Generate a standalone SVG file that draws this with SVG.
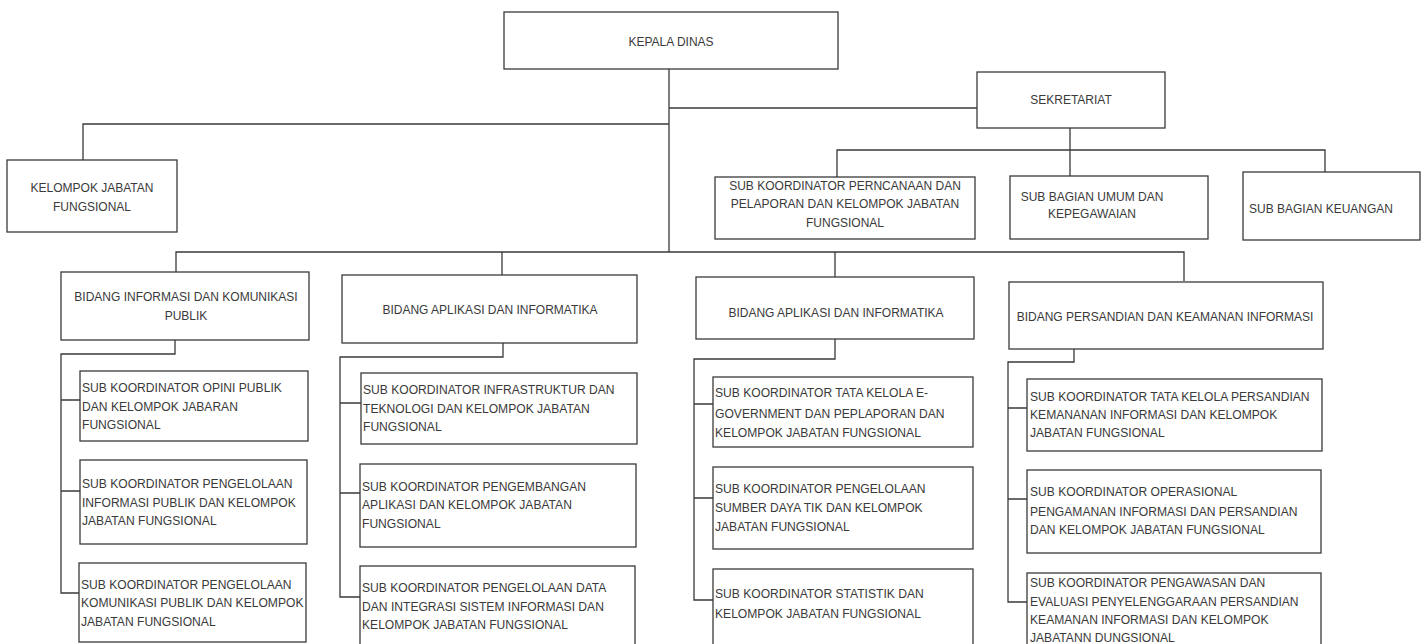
<svg xmlns="http://www.w3.org/2000/svg" width="1428" height="644" viewBox="0 0 1428 644">
<style>
.b{fill:#fff;stroke:#3a3a3a;stroke-width:1.3}
.c{fill:none;stroke:#3a3a3a;stroke-width:1.3}
text{font-family:"Liberation Sans",Arial,sans-serif;fill:#3a3a3a}
.t{font-size:12px;text-anchor:middle}
.s{font-size:12.1px}
</style>
<rect width="1428" height="644" fill="#fff"/>
<g id="connectors">
<path class="c" d="M669 69V252"/>
<path class="c" d="M669 108H977"/>
<path class="c" d="M669 124H83V160"/>
<path class="c" d="M1070 128V176"/>
<path class="c" d="M837 177V150H1325V172"/>
<path class="c" d="M176 272V252H1184V281"/>
<path class="c" d="M502 252V275"/>
<path class="c" d="M835 252V277"/>
<path class="c" d="M175 340V354H61V593H80M61 400H80M61 491H80"/>
<path class="c" d="M503 343V357H340V597H361M340 403H361M340 493H361"/>
<path class="c" d="M835 339V359H694V600H713M694 404H713M694 498H713"/>
<path class="c" d="M1074 349V362H1008V602H1027M1008 408H1027M1008 499H1027"/>
</g>
<g id="kepala"><rect class="b" x="504" y="12" width="334" height="57"/><text class="t" x="671" y="46">KEPALA DINAS</text></g>
<g id="sekretariat"><rect class="b" x="977" y="72" width="188" height="56"/><text class="t" x="1071" y="104">SEKRETARIAT</text></g>
<g id="kjf"><rect class="b" x="7" y="160" width="170" height="72"/><text class="t" x="92" y="192">KELOMPOK JABATAN</text><text class="t" x="92" y="211">FUNGSIONAL</text></g>
<g id="perencanaan"><rect class="b" x="715" y="177" width="260" height="62"/><text class="t" x="845" y="190">SUB KOORDINATOR PERNCANAAN DAN</text><text class="t" x="845" y="208">PELAPORAN DAN KELOMPOK JABATAN</text><text class="t" x="845" y="227">FUNGSIONAL</text></g>
<g id="umum"><rect class="b" x="1010" y="176" width="198" height="63"/><text class="t" x="1092" y="201">SUB BAGIAN UMUM DAN</text><text class="t" x="1092" y="218">KEPEGAWAIAN</text></g>
<g id="keuangan"><rect class="b" x="1243" y="172" width="177" height="68"/><text class="t" x="1321" y="213">SUB BAGIAN KEUANGAN</text></g>
<g id="bidang1"><rect class="b" x="61" y="272" width="248" height="68"/><text class="t" x="186" y="301">BIDANG INFORMASI DAN KOMUNIKASI</text><text class="t" x="186" y="320">PUBLIK</text></g>
<g id="bidang2"><rect class="b" x="342" y="275" width="295" height="68"/><text class="t" x="490" y="314">BIDANG APLIKASI DAN INFORMATIKA</text></g>
<g id="bidang3"><rect class="b" x="696" y="277" width="278" height="62"/><text class="t" x="836" y="317">BIDANG APLIKASI DAN INFORMATIKA</text></g>
<g id="bidang4"><rect class="b" x="1009" y="282" width="314" height="67"/><text class="t" x="1165" y="321">BIDANG PERSANDIAN DAN KEAMANAN INFORMASI</text></g>
<g id="s11"><rect class="b" x="80" y="371" width="228" height="70"/><text class="s" x="82" y="392">SUB KOORDINATOR OPINI PUBLIK</text><text class="s" x="82" y="411">DAN KELOMPOK JABARAN</text><text class="s" x="82" y="429">FUNGSIONAL</text></g>
<g id="s12"><rect class="b" x="80" y="460" width="227" height="84"/><text class="s" x="82" y="488">SUB KOORDINATOR PENGELOLAAN</text><text class="s" x="82" y="507">INFORMASI PUBLIK DAN KELOMPOK</text><text class="s" x="82" y="525">JABATAN FUNGSIONAL</text></g>
<g id="s13"><rect class="b" x="79" y="563" width="227" height="79"/><text class="s" x="81" y="589">SUB KOORDINATOR PENGELOLAAN</text><text class="s" x="81" y="607">KOMUNIKASI PUBLIK DAN KELOMPOK</text><text class="s" x="81" y="626">JABATAN FUNGSIONAL</text></g>
<g id="s21"><rect class="b" x="361" y="373" width="276" height="71"/><text class="s" x="363" y="394">SUB KOORDINATOR INFRASTRUKTUR DAN</text><text class="s" x="363" y="413">TEKNOLOGI DAN KELOMPOK JABATAN</text><text class="s" x="363" y="431">FUNGSIONAL</text></g>
<g id="s22"><rect class="b" x="360" y="464" width="276" height="83"/><text class="s" x="362" y="491">SUB KOORDINATOR PENGEMBANGAN</text><text class="s" x="362" y="509">APLIKASI DAN KELOMPOK JABATAN</text><text class="s" x="362" y="528">FUNGSIONAL</text></g>
<g id="s23"><rect class="b" x="360" y="566" width="275" height="80"/><text class="s" x="362" y="592">SUB KOORDINATOR PENGELOLAAN DATA</text><text class="s" x="362" y="611">DAN INTEGRASI SISTEM INFORMASI DAN</text><text class="s" x="362" y="629">KELOMPOK JABATAN FUNGSIONAL</text></g>
<g id="s31"><rect class="b" x="713" y="377" width="260" height="70"/><text class="s" x="715" y="397">SUB KOORDINATOR TATA KELOLA E-</text><text class="s" x="715" y="418">GOVERNMENT DAN PEPLAPORAN DAN</text><text class="s" x="715" y="437">KELOMPOK JABATAN FUNGSIONAL</text></g>
<g id="s32"><rect class="b" x="713" y="467" width="260" height="82"/><text class="s" x="715" y="493">SUB KOORDINATOR PENGELOLAAN</text><text class="s" x="715" y="512">SUMBER DAYA TIK DAN KELOMPOK</text><text class="s" x="715" y="531">JABATAN FUNGSIONAL</text></g>
<g id="s33"><rect class="b" x="713" y="569" width="260" height="78"/><text class="s" x="715" y="598">SUB KOORDINATOR STATISTIK DAN</text><text class="s" x="715" y="618">KELOMPOK JABATAN FUNGSIONAL</text></g>
<g id="s41"><rect class="b" x="1027" y="379" width="295" height="72"/><text class="s" x="1030" y="401">SUB KOORDINATOR TATA KELOLA PERSANDIAN</text><text class="s" x="1030" y="419">KEMANANAN INFORMASI DAN KELOMPOK</text><text class="s" x="1030" y="437">JABATAN FUNGSIONAL</text></g>
<g id="s42"><rect class="b" x="1027" y="470" width="294" height="83"/><text class="s" x="1030" y="496">SUB KOORDINATOR OPERASIONAL</text><text class="s" x="1030" y="516">PENGAMANAN INFORMASI DAN PERSANDIAN</text><text class="s" x="1030" y="534">DAN KELOMPOK JABATAN FUNGSIONAL</text></g>
<g id="s43"><rect class="b" x="1027" y="573" width="294" height="75"/><text class="s" x="1030" y="587">SUB KOORDINATOR PENGAWASAN DAN</text><text class="s" x="1030" y="606">EVALUASI PENYELENGGARAAN PERSANDIAN</text><text class="s" x="1030" y="624">KEAMANAN INFORMASI DAN KELOMPOK</text><text class="s" x="1030" y="642">JABATANN DUNGSIONAL</text></g>
</svg>
